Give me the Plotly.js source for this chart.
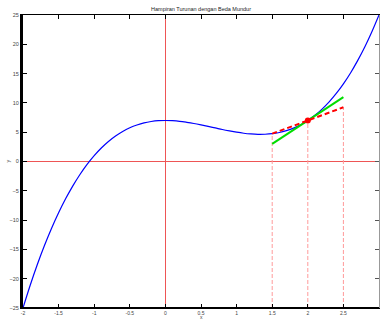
<!DOCTYPE html>
<html><head><meta charset="utf-8">
<script src="https://cdn.plot.ly/plotly-3.0.1.min.js"></script>
<style>html,body{margin:0;padding:0;background:#fff}#chart{width:380px;height:321px}</style>
</head><body><div id="chart"></div>
<script>
// curve samples
const curveX = [-2,-1.9,-1.8,-1.7,-1.6,-1.5,-1.4,-1.3,-1.2,-1.1,-1,-0.9,-0.8,-0.7,-0.6,-0.5,-0.4,-0.3,-0.2,-0.1,0,0.1,0.2,0.3,0.4,0.5,0.6,0.7,0.8,0.9,1,1.1,1.2,1.3,1.4,1.5,1.6,1.7,1.8,1.9,2,2.1,2.2,2.3,2.4,2.5,2.6,2.7,2.8,2.9,3];
const curveY = [-25,-21.16,-17.62,-14.39,-11.43,-8.75,-6.33,-4.15,-2.22,-0.5,1,2.3,3.42,4.35,5.13,5.75,6.23,6.59,6.82,6.96,7,6.96,6.86,6.69,6.49,6.25,5.99,5.73,5.46,5.22,5,4.82,4.7,4.63,4.65,4.75,4.95,5.27,5.7,6.28,7,7.88,8.94,10.17,11.61,13.25,15.11,17.21,19.54,22.14,25];
// tangent line (green)
const tangentX = [1.5, 2.5];
const tangentY = [3, 11];
// backward difference line (red dashed)
const diffX = [1.5, 2.5];
const diffY = [4.75, 9.25];
// evaluation point
const pointX = [2];
const pointY = [7];
// vertical guide lines
const guideX = [1.5, 2, 2.5];
const guideTop = [4.75, 7, 9.25];
const yBottom = -25;
const xTicks = [-2,-1.5,-1,-0.5,0,0.5,1,1.5,2,2.5,3];
const xTickText = ['-2','-1.5','-1','-0.5','0','0.5','1','1.5','2','2.5','3'];
const yTicks = [-25,-20,-15,-10,-5,0,5,10,15,20,25];

const traces = [];
guideX.forEach((gx, i) => {
  traces.push({x:[gx,gx], y:[yBottom, guideTop[i]], mode:'lines', line:{color:'#ff9a9a', width:1, dash:'4px,2px'}, hoverinfo:'skip', showlegend:false});
});
traces.push({x:curveX, y:curveY, mode:'lines', line:{color:'#0000ff', width:1.2, shape:'spline'}, showlegend:false});
traces.push({x:tangentX, y:tangentY, mode:'lines', line:{color:'#00dd00', width:2}, showlegend:false});
traces.push({x:diffX, y:diffY, mode:'lines', line:{color:'#ff0000', width:2, dash:'5px,3px'}, showlegend:false});
traces.push({x:pointX, y:pointY, mode:'markers', marker:{color:'#ff0000', size:6}, showlegend:false});
traces.push({x:[], y:[], xaxis:'x2', yaxis:'y2', showlegend:false});

const fam = 'Liberation Sans, Arial, sans-serif';
const fnt = {family:fam, size:5.5, color:'#444'};
const xfnt = {family:fam, size:5, color:'#444'};
const layout = {
  width:380, height:321,
  margin:{l:23, r:1, t:15, b:13},
  paper_bgcolor:'#fff', plot_bgcolor:'#fff',
  font: fnt,
  title:{text:'Hampiran Turunan dengan Beda Mundur', font:{family:fam, size:5.5, color:'#222'}, x:0.529, xanchor:'center', y:1-9/321, yanchor:'middle'},
  xaxis:{range:[-2,3], tickvals:xTicks, ticktext:xTickText, ticks:'inside', ticklen:4, tickcolor:'#000', showline:true, linecolor:'#000', linewidth:1, showgrid:false, zeroline:true, zerolinecolor:'#ee5555', zerolinewidth:1, tickfont:xfnt, automargin:false, fixedrange:true},
  yaxis:{range:[-25,25], tickvals:yTicks, ticks:'inside', ticklen:4, tickcolor:'#000', showline:true, linecolor:'#000', linewidth:3, showgrid:false, zeroline:true, zerolinecolor:'#ee5555', zerolinewidth:1, tickfont:fnt, automargin:false, fixedrange:true},
  xaxis2:{range:[-2,3], overlaying:'x', side:'top', tickvals:xTicks, ticks:'inside', ticklen:4, tickcolor:'#000', showticklabels:false, showline:true, linecolor:'#000', linewidth:1, showgrid:false, zeroline:false},
  yaxis2:{range:[-25,25], overlaying:'y', side:'right', tickvals:yTicks, ticks:'inside', ticklen:4, tickcolor:'#555', showticklabels:false, showline:true, linecolor:'#999', linewidth:1, showgrid:false, zeroline:false},
  shapes:[
    {type:'line', xref:'paper', yref:'paper', x0:0, x1:1, y0:0, y1:0, line:{color:'#000', width:2}, layer:'above'}
  ],
  annotations:[
    {text:'x', xref:'paper', yref:'paper', x:0.5, y:-13/293, xanchor:'center', yanchor:'bottom', borderpad:0, showarrow:false, font:xfnt},
    {text:'y', xref:'paper', yref:'paper', x:(7-23)/356, y:0.5, xanchor:'center', yanchor:'middle', showarrow:false, textangle:-90, font:fnt}
  ]
};
Plotly.newPlot('chart', traces, layout, {displayModeBar:false, staticPlot:true});
</script></body></html>
